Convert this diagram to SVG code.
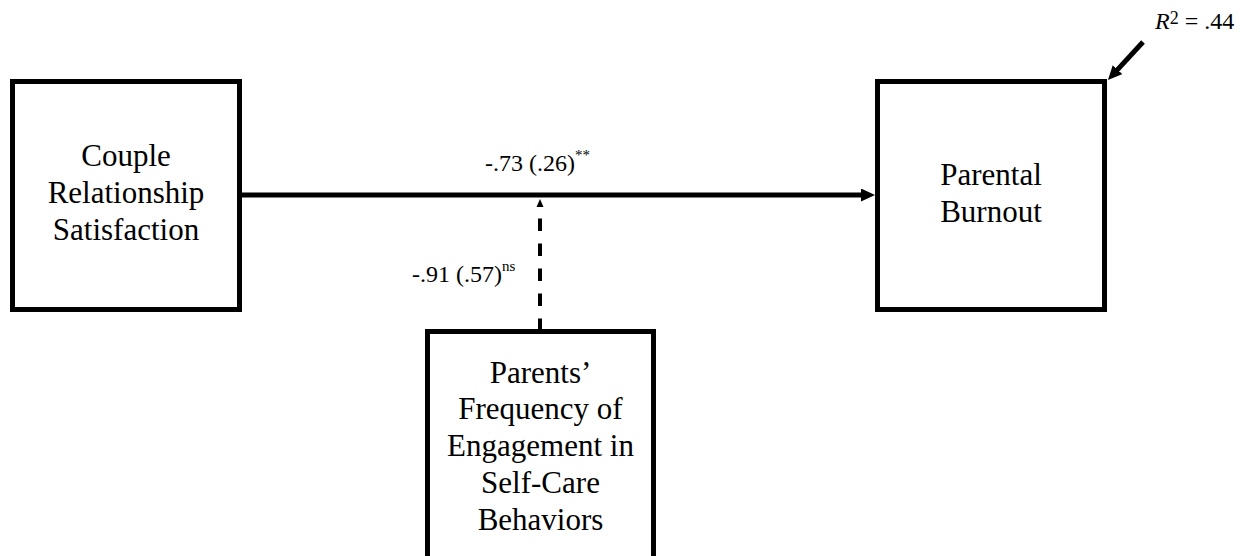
<svg xmlns="http://www.w3.org/2000/svg" width="1247" height="556" viewBox="0 0 1247 556">
<style>
.box{fill:#fff;stroke:#000;stroke-width:5}
.lbl{font-family:"Liberation Serif","Times New Roman",serif;font-size:31px;fill:#000;text-anchor:middle}
.coef{font-family:"Liberation Serif","Times New Roman",serif;font-size:24px;fill:#000}
.sup{font-size:15px}
.edge{stroke:#000;stroke-width:5;fill:none}
.dash{stroke:#000;stroke-width:4;fill:none;stroke-dasharray:12.5 12.5}
</style>
<defs>
<marker id="arrow" markerUnits="userSpaceOnUse" viewBox="0 0 14 13" refX="6" refY="6.5" markerWidth="14" markerHeight="13" orient="auto">
<path d="M0,0 L14,6.5 L0,13 z" fill="#000"/>
</marker>
<marker id="smallarrow" markerUnits="userSpaceOnUse" viewBox="0 0 20 8" refX="0" refY="4" markerWidth="20" markerHeight="8" orient="auto">
<path d="M11,0.5 L19,4 L11,7.5 z" fill="#000"/>
</marker>
</defs>
<g id="connectors">
<line class="edge" x1="242" y1="195" x2="867" y2="195" marker-end="url(#arrow)"/>
<line class="dash" x1="540" y1="331" x2="540" y2="218" marker-end="url(#smallarrow)"/>
<line class="edge" x1="1143" y1="42" x2="1113.4" y2="74.1" marker-end="url(#arrow)"/>
</g>
<g id="node-couple">
<rect class="box" x="12.5" y="81.5" width="227" height="228"/>
<text class="lbl" x="126" y="166">Couple</text>
<text class="lbl" x="126" y="203">Relationship</text>
<text class="lbl" x="126" y="240">Satisfaction</text>
</g>
<g id="node-burnout">
<rect class="box" x="877.5" y="81.5" width="227" height="228"/>
<text class="lbl" x="991" y="185">Parental</text>
<text class="lbl" x="991" y="222">Burnout</text>
</g>
<g id="node-selfcare">
<rect class="box" x="427.5" y="331.5" width="226" height="240"/>
<text class="lbl" x="540.5" y="383">Parents’</text>
<text class="lbl" x="540.5" y="419">Frequency of</text>
<text class="lbl" x="540.5" y="456">Engagement in</text>
<text class="lbl" x="540.5" y="493">Self-Care</text>
<text class="lbl" x="540.5" y="530">Behaviors</text>
</g>
<g id="labels">
<text class="coef" x="485" y="171">-.73 (.26)<tspan class="sup" dy="-11">**</tspan></text>
<text class="coef" x="412" y="282">-.91 (.57)<tspan class="sup" dy="-11">ns</tspan></text>
<text class="coef" x="1155" y="29"><tspan font-style="italic">R</tspan><tspan font-size="18" dy="-5">2</tspan><tspan dy="5"> = .44</tspan></text>
</g>
</svg>
